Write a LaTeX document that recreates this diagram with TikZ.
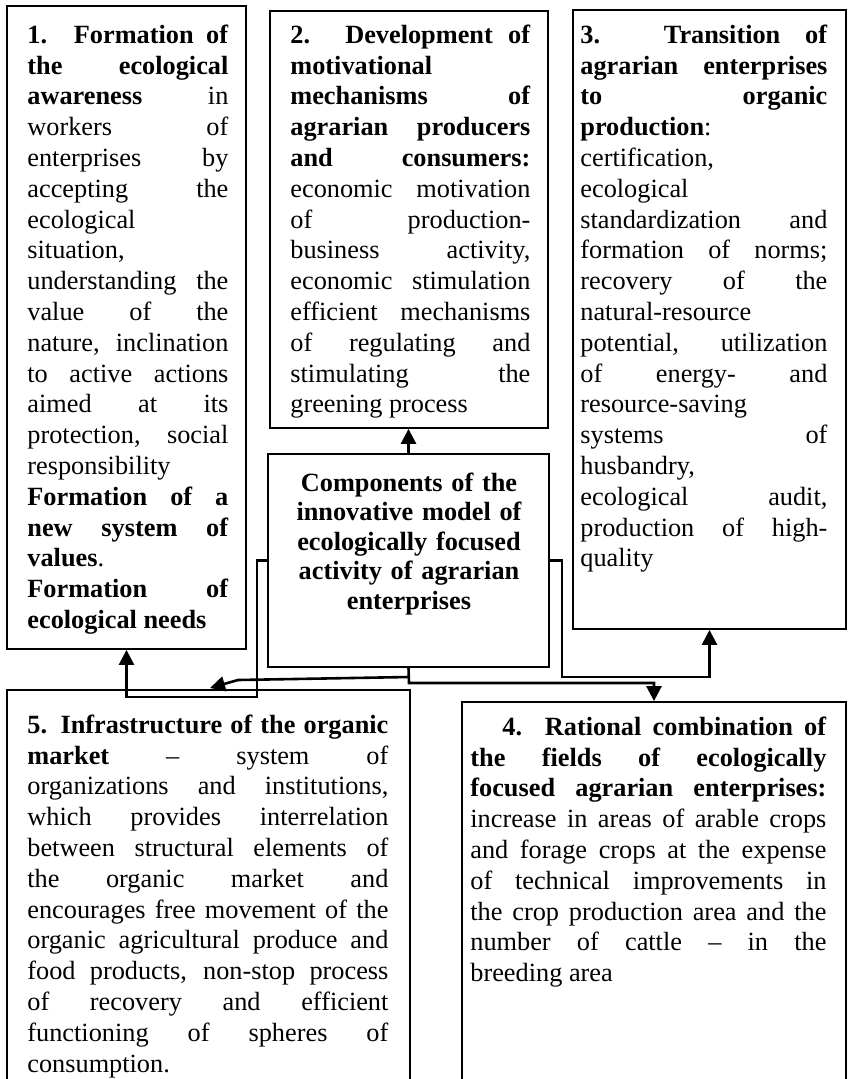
\documentclass[tikz,border=0pt]{standalone}
\usepackage{fontspec}
\setmainfont{Liberation Serif}
\usetikzlibrary{arrows.meta,fit}
\setlength\parindent{0pt}
\newcommand\J[1]{\makebox[\linewidth][s]{\strut#1}\par}
\newcommand\Lf[1]{\strut#1\par}
\tikzset{
  box/.style={draw, line width=0.9pt, inner sep=0pt},
  txt/.style={anchor=north west, inner sep=0pt, align=justify,
    font=\fontsize{13.15pt}{15.4pt}\selectfont},
  ctxt/.style={anchor=north, inner sep=0pt, align=center,
    font=\fontsize{13.15pt}{14.75pt}\selectfont\bfseries},
  conn/.style={line width=1.3pt, -{Triangle[length=7.5pt,width=7.5pt]}},
  plain/.style={line width=1.3pt}
}
\begin{document}
\begin{tikzpicture}[x=0.5pt,y=-0.5pt]
\clip (0,0) rectangle (847,1079);
\fill[white] (0,0) rectangle (847,1079);
% boxes
\node[box, fit={(7,6)(246,649)}] (b1) {};
\node[box, fit={(270,11)(548,428)}] (b2) {};
\node[box, fit={(573,10)(846,629)}] (b3) {};
\node[box, fit={(268,454)(549,667)}] (c) {};
\node[box, fit={(7,690)(410,1100)}] (b5) {};
\node[box, fit={(462,702)(846,1100)}] (b4) {};
% texts
\node[txt, text width=100.5pt] (t1) at (27,21.4) {%
\J{\textbf{1. Formation of}}
\J{\textbf{the ecological}}
\J{\textbf{awareness} in}
\J{workers of}
\J{enterprises by}
\J{accepting the}
\Lf{ecological}
\Lf{situation,}
\J{understanding the}
\J{value of the}
\J{nature, inclination}
\J{to active actions}
\J{aimed at its}
\J{protection, social}
\Lf{responsibility}
\J{\textbf{Formation of a}}
\J{\textbf{new system of}}
\Lf{\textbf{values}.}
\J{\textbf{Formation of}}
\Lf{\textbf{ecological needs}}};
\node[txt, text width=120pt] (t2) at (290,21.4) {%
\J{\textbf{2. Development of}}
\Lf{\textbf{motivational}}
\J{\textbf{mechanisms of}}
\J{\textbf{agrarian producers}}
\J{\textbf{and consumers:}}
\J{economic motivation}
\J{of production-}
\J{business activity,}
\J{economic stimulation}
\J{efficient mechanisms}
\J{of regulating and}
\J{stimulating the}
\Lf{greening process}};
\node[txt, text width=123.5pt] (t3) at (580,21.4) {%
\J{\textbf{3. Transition of}}
\J{\textbf{agrarian enterprises}}
\J{\textbf{to organic}}
\Lf{\textbf{production}:}
\Lf{certification,}
\Lf{ecological}
\J{standardization and}
\J{formation of norms;}
\J{recovery of the}
\Lf{natural-resource}
\J{potential, utilization}
\J{of energy- and}
\Lf{resource-saving}
\J{systems of}
\Lf{husbandry,}
\J{ecological audit,}
\J{production of high-}
\Lf{quality}};
\node[ctxt, text width=135pt] (tc) at (409,470.4) {%
\strut Components of the\\innovative model of\\ecologically focused\\activity of agrarian\\enterprises};
\node[txt, text width=180.5pt] (t5) at (27,711.4) {%
\J{\textbf{5. Infrastructure of the organic}}
\J{\textbf{market} – system of}
\J{organizations and institutions,}
\J{which provides interrelation}
\J{between structural elements of}
\J{the organic market and}
\J{encourages free movement of the}
\J{organic agricultural produce and}
\J{food products, non-stop process}
\J{of recovery and efficient}
\J{functioning of spheres of}
\Lf{consumption.}};
\node[txt, text width=178pt] (t4) at (470,713.4) {%
\J{\hspace*{16pt}\textbf{4. Rational combination of}}
\J{\textbf{the fields of ecologically}}
\J{\textbf{focused agrarian enterprises:}}
\J{increase in areas of arable crops}
\J{and forage crops at the expense}
\J{of technical improvements in}
\J{the crop production area and the}
\J{number of cattle – in the}
\Lf{breeding area}};
% connectors
\coordinate (L1) at (257,697);
\coordinate (R1) at (562,677);
\coordinate (B1) at (409,683);
\coordinate (B2) at (409,677);
\coordinate (B3) at (238,680);
\coordinate (B4) at (210,688);
\draw[conn] (c.north) -- (c.north |- b2.south);
\draw[conn] (c.west) -| (L1) -| (b1.south);
\draw[conn] (c.east) -| (R1) -| (b3.south);
\draw[conn] (c.south) -- (B1) -| (b4.north);
\draw[conn] (B2) -- (B3) -- (B4);
\end{tikzpicture}
\end{document}
